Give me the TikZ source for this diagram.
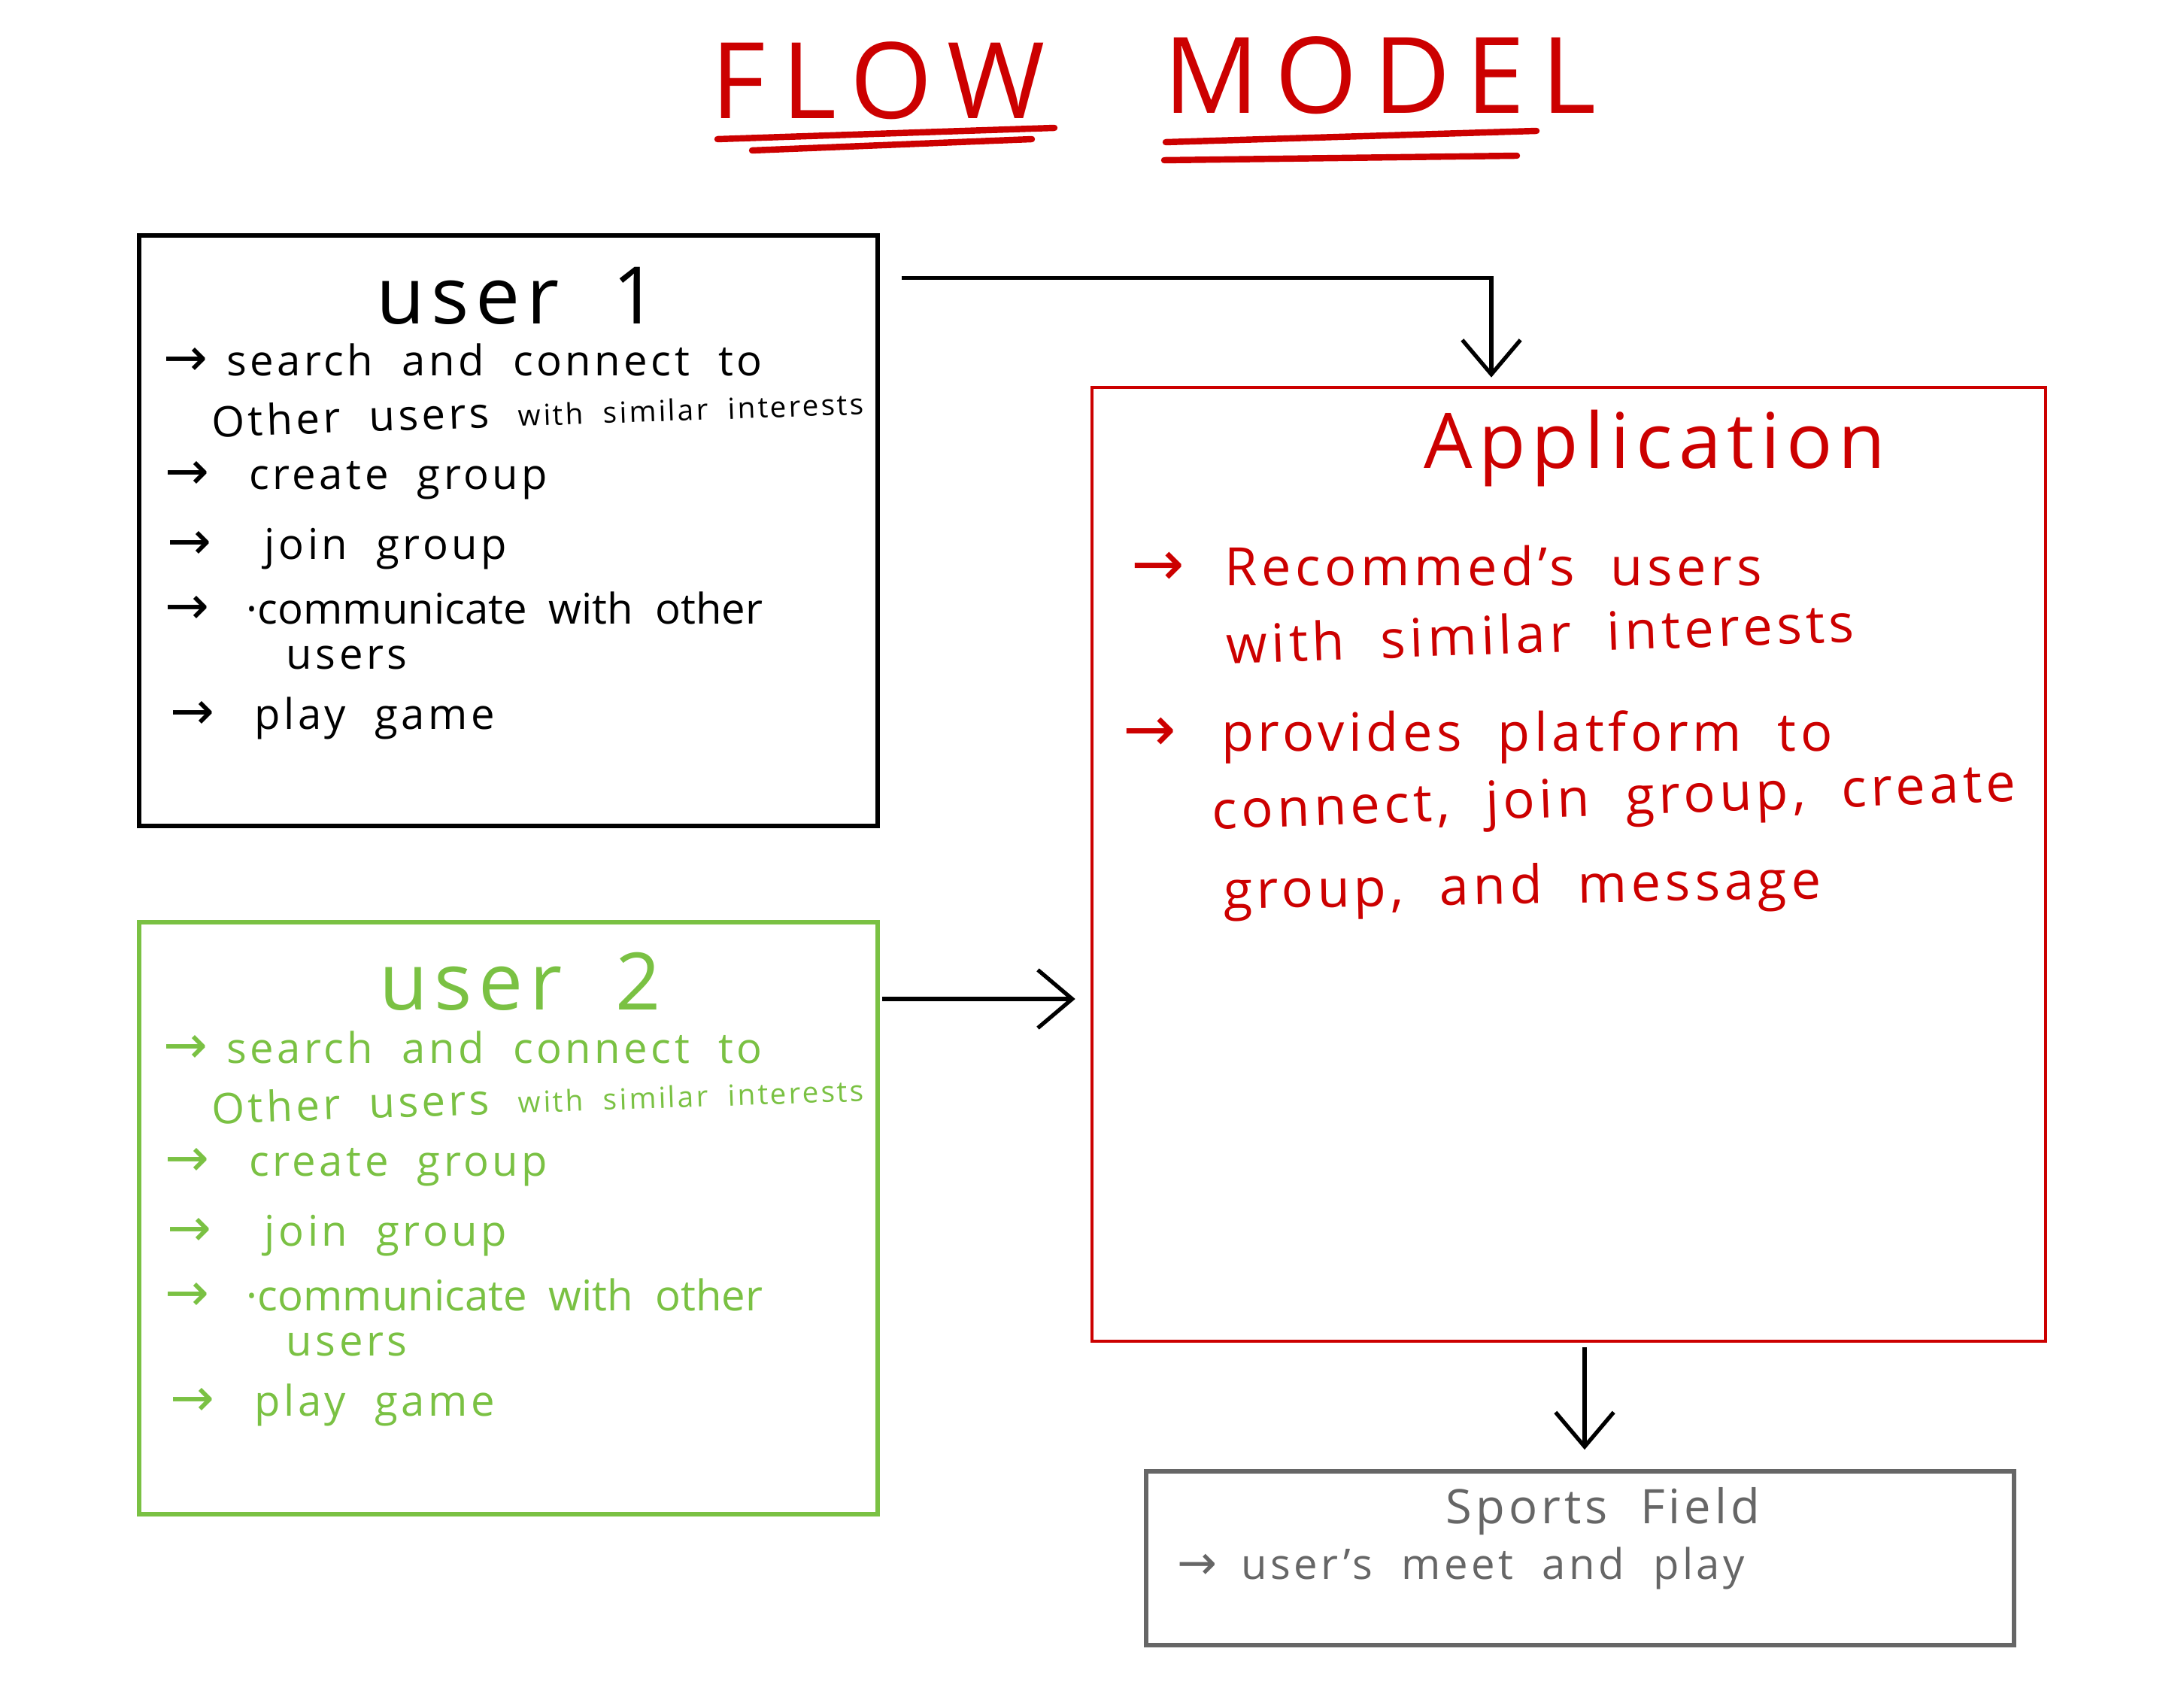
\documentclass[tikz,border=0pt]{standalone}
\usepackage{fontspec}
\setmainfont{Open Sans}[LetterSpace=8,WordSpace=2]
\newfontfamily\titlefont{Open Sans}[LetterSpace=15]
\newfontfamily\arrfont{DejaVu Sans}
\usetikzlibrary{positioning,arrows.meta}
\definecolor{InkBlack}{HTML}{000000}
\definecolor{UserGreen}{HTML}{7AC143}
\definecolor{AppRed}{HTML}{CC0000}
\definecolor{FieldGray}{HTML}{666666}
\newcommand{\arr}[1][20]{{\arrfont\fontsize{#1}{#1}\selectfont →}}

\begin{document}
\begin{tikzpicture}[
      box/.style={draw,line width=1.6pt,inner sep=0pt},
      flow/.style={-{Straight Barb[length=13pt,width=22pt]},line width=1.5pt,InkBlack},
      uline/.style={AppRed,line width=2.4pt,line cap=round},
      head/.style={anchor=west,inner sep=0pt,font=\fontsize{30}{34}\selectfont},
      item/.style={anchor=west,inner sep=0pt,font=\fontsize{16}{19}\selectfont},
      appitem/.style={anchor=west,inner sep=0pt,font=\fontsize{20}{24}\selectfont,text=AppRed}]
    \useasboundingbox (0,0) rectangle (29.04,-22.44);

    % title
    \node[anchor=west,inner sep=0pt,text=AppRed,font=\titlefont\fontsize{40}{44}\selectfont] (flowword) at (9.45,-1.07) {FLOW};
    \node[anchor=west,inner sep=0pt,text=AppRed,font=\titlefont\fontsize{40}{44}\selectfont] (modelword) at (15.47,-1.00) {MODEL};
    \draw[uline] (9.54,-1.85) -- (14.02,-1.70);
    \draw[uline] (10.00,-2.00) -- (13.72,-1.85);
    \draw[uline] (15.50,-1.89) -- (20.43,-1.74);
    \draw[uline] (15.48,-2.13) -- (20.17,-2.07);

    % boxes
    \node[box,draw=InkBlack,minimum width=9.82cm,minimum height=7.85cm] (u1) at (6.76,-7.055) {};
    \node[box,draw=UserGreen,minimum width=9.82cm,minimum height=7.87cm] (u2) at (6.76,-16.195) {};
    \node[box,draw=AppRed,line width=1.3pt,minimum width=12.68cm,minimum height=12.68cm] (app) at (20.86,-11.49) {};
    \node[box,draw=FieldGray,minimum width=11.54cm,minimum height=2.31cm] (field) at (21.01,-20.715) {};

    % user 1
    \node[head] (u1title) at (5.00,-3.93) {user 1};
    \node[item] (u1a) at (2.17,-4.78) {\arr\hspace{7pt}search and connect to};
    \node[item,rotate=2] (u1b) at (2.81,-5.60) {Other users {\fontsize{11}{13}\selectfont with similar interests}};
    \node[item] (u1c) at (2.19,-6.39) {\arr\hspace{15pt}create group};
    \node[item] (u1d) at (2.22,-7.30) {\arr\hspace{20pt}join group};
    \node[item] (u1e) at (2.19,-8.08) {\arr\hspace{14pt}{\addfontfeatures{LetterSpace=0}·communicate with other}};
    \node[item] (u1f) at (3.80,-8.74) {users};
    \node[item] (u1g) at (2.26,-9.55) {\arr\hspace{15pt}play game};

    % user 2
    \node[head,text=UserGreen] (u2title) at (5.04,-13.05) {user 2};
    \node[item,text=UserGreen] (u2a) at (2.17,-13.92) {\arr\hspace{7pt}search and connect to};
    \node[item,text=UserGreen,rotate=2] (u2b) at (2.81,-14.73) {Other users {\fontsize{11}{13}\selectfont with similar interests}};
    \node[item,text=UserGreen] (u2c) at (2.19,-15.52) {\arr\hspace{15pt}create group};
    \node[item,text=UserGreen] (u2d) at (2.22,-16.43) {\arr\hspace{20pt}join group};
    \node[item,text=UserGreen] (u2e) at (2.19,-17.21) {\arr\hspace{14pt}{\addfontfeatures{LetterSpace=0}·communicate with other}};
    \node[item,text=UserGreen] (u2f) at (3.80,-17.87) {users};
    \node[item,text=UserGreen] (u2g) at (2.26,-18.68) {\arr\hspace{15pt}play game};

    % application
    \node[head,text=AppRed,font=\fontsize{29}{33}\selectfont] (apptitle) at (18.93,-5.96) {Application};
    \node[appitem] (appa) at (15.04,-7.52) {\arr[24]\hspace{15pt}Recommed's users};
    \node[appitem,rotate=2] (appb) at (16.30,-8.56) {with similar interests};
    \node[appitem] (appc) at (14.93,-9.80) {\arr[24]\hspace{17pt}provides platform to};
    \node[appitem,rotate=2] (appd) at (16.11,-10.85) {connect, join group, create};
    \node[appitem,rotate=1] (appe) at (16.26,-11.90) {group, and message};

    % sports field
    \node[head,text=FieldGray,font=\fontsize{18}{22}\selectfont] (fieldtitle) at (19.22,-20.09) {Sports Field};
    \node[item,text=FieldGray] (fielda) at (15.65,-20.85) {\arr[18]\hspace{9pt}user's meet and play};

    % connectors
    \draw[flow,shorten >=0.11cm] ([shift={(0.29,-0.59)}]u1.north east) -| ([xshift=-1.03cm]app.north);
    \draw[flow,shorten <=0.03cm,shorten >=0.2cm] ([yshift=2.915cm]u2.east) -- ([yshift=2.915cm]u2.east -| app.west);
    \draw[flow,shorten <=0.06cm,shorten >=0.26cm] ([xshift=0.21cm]app.south) -- ([xshift=0.21cm]app.south |- field.north);
  \end{tikzpicture}
\end{document}
